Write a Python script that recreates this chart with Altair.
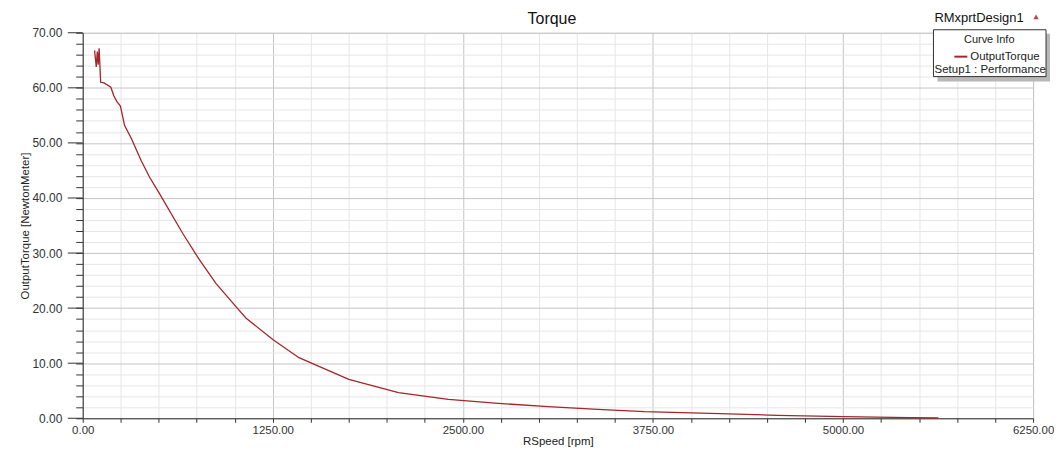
import altair as alt
import pandas as pd

# ---- data ----
rpm = [78, 89, 96, 102, 108, 118, 140, 185, 205, 225, 248, 275, 320, 384, 439, 505,
       657, 767, 876, 985, 1073, 1250, 1422, 1750, 2077, 2405, 2733, 3060, 3388,
       3694, 4129, 4567, 5004, 5441, 5627]
torque = [66.8, 63.8, 66.6, 64.2, 67.2, 61.0, 60.9, 60.1, 58.5, 57.5, 56.7, 53.2, 50.8,
          46.8, 43.8, 40.8, 33.6, 28.8, 24.5, 21.0, 18.2, 14.3, 11.0, 7.05, 4.65, 3.44,
          2.71, 2.11, 1.63, 1.2, 0.9, 0.54, 0.3, 0.12, 0.05]
x_ticks = list(range(0, 6251, 250))
y_ticks = list(range(0, 71, 2))
y_major = list(range(0, 71, 10))

FONT = "Liberation Sans"
W, H = 954, 387

df = pd.DataFrame({"rpm": rpm, "torque": torque, "i": range(len(rpm))})
one = pd.DataFrame({"a": [0]})

xscale = alt.Scale(domain=[0, 6250], nice=False, zero=False)
yscale = alt.Scale(domain=[0, 70], nice=False, zero=False)

x_axis = alt.Axis(
    values=x_ticks,
    labelExpr="datum.value % 1250 === 0 ? format(datum.value, '.2f') : ''",
    tickSize=4, tickColor="#333", domainColor="#333",
    labelFont=FONT, labelFontSize=11.5, labelColor="#333", labelPadding=2,
    labelFlush=False, labelOverlap=False,
    gridColor={"condition": {"test": "datum.value % 1250 === 0", "value": "#c4c4c4"},
               "value": "#e6e6e6"},
    title="RSpeed [rpm]", titleFont=FONT, titleFontSize=11.5, titleFontWeight="normal",
    titleColor="#222", titlePadding=0,
)
y_axis = alt.Axis(
    values=y_ticks,
    labelExpr="datum.value % 10 === 0 ? format(datum.value, '.2f') : ''",
    tickSize=7, tickColor="#333", domainColor="#333",
    labelFont=FONT, labelFontSize=12, labelColor="#333", labelPadding=14,
    labelOverlap=False,
    gridColor={"condition": {"test": "datum.value % 10 === 0", "value": "#c4c4c4"},
               "value": "#e6e6e6"},
    title="OutputTorque [NewtonMeter]", titleFont=FONT, titleFontSize=11.5,
    titleFontWeight="normal", titleColor="#222", titlePadding=1,
)

line = alt.Chart(df).mark_line(color="#a3262a", strokeWidth=1.3).encode(
    x=alt.X("rpm:Q", scale=xscale, axis=x_axis),
    y=alt.Y("torque:Q", scale=yscale, axis=y_axis),
    order="i:Q",
)

major_ticks = alt.Chart(pd.DataFrame({"v": y_major})).mark_rule(color="#333").encode(
    y=alt.Y("v:Q", scale=yscale, axis=None),
    x=alt.value(-15), x2=alt.value(0),
)

title = alt.Chart(one).mark_text(text="Torque", font=FONT, fontSize=16, color="#111",
                                 align="center", baseline="alphabetic").encode(
    x=alt.value(471), y=alt.value(-9))
design = alt.Chart(one).mark_text(text="RMxprtDesign1", font=FONT, fontSize=13, color="#111",
                                  align="left", baseline="alphabetic").encode(
    x=alt.value(855), y=alt.value(-11))
tri = alt.Chart(one).mark_point(shape="triangle-up", filled=True, size=30, color="#c04848",
                                opacity=1).encode(x=alt.value(957), y=alt.value(-16))
shadow = alt.Chart(one).mark_rect(color="#b8b8b8").encode(
    x=alt.value(858), x2=alt.value(971), y=alt.value(1), y2=alt.value(49))
box = alt.Chart(one).mark_rect(fill="white", stroke="#333", strokeWidth=1).encode(
    x=alt.value(854), x2=alt.value(967), y=alt.value(-3), y2=alt.value(44))
curve_info = alt.Chart(one).mark_text(text="Curve Info", font=FONT, fontSize=11, color="#222",
                                      align="center", baseline="middle").encode(
    x=alt.value(910), y=alt.value(7))
leg_line = alt.Chart(one).mark_rule(color="#a3262a", strokeWidth=2).encode(
    x=alt.value(875), x2=alt.value(888), y=alt.value(24))
leg_name = alt.Chart(one).mark_text(text="OutputTorque", font=FONT, fontSize=11.5, color="#222",
                                    align="left", baseline="middle").encode(
    x=alt.value(891), y=alt.value(24))
leg_setup = alt.Chart(one).mark_text(text="Setup1 : Performance", font=FONT, fontSize=11.5,
                                     color="#222", align="center", baseline="middle").encode(
    x=alt.value(911), y=alt.value(37))

chart = alt.layer(
    line, major_ticks, title, design, tri, shadow, box, curve_info, leg_line, leg_name, leg_setup
).resolve_axis(y="independent").properties(
    width=W, height=H,
    autosize=alt.AutoSizeParams(type="none"),
    padding={"left": 75, "top": 24, "right": 21, "bottom": 30},
).configure_view(stroke="#555", strokeWidth=1).configure(background="white")

chart.save("out.html", embed_options={"renderer": "svg", "actions": False})
